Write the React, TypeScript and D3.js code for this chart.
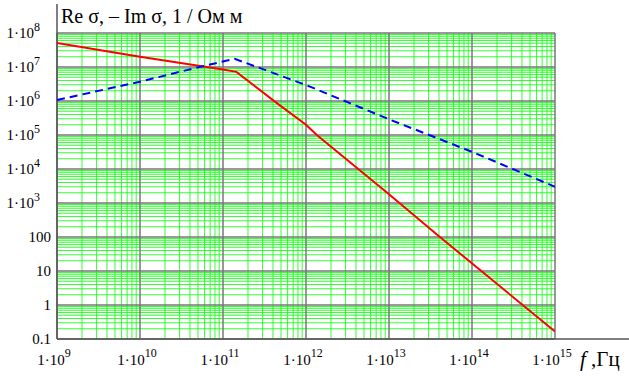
import * as d3 from "d3";
import React from "react";

// Re sigma (red, solid)
const reFreq = [1e9, 1e10, 1e11, 1.45e11, 4.5e11, 1e12, 1.35e12, 1e13, 4.1e13, 1e15];
const reSigma = [5.1e7, 2.0e7, 8.5e6, 7.2e6, 8.5e5, 2.0e5, 1.0e5, 1.8e3, 1.0e2, 0.166];

// -Im sigma (blue, dashed)
const imFreq = [1e9, 1e10, 5.2e10, 1.38e11, 1e12, 1e13, 1e14, 1e15];
const imSigma = [1.07e6, 3.7e6, 1.0e7, 1.74e7, 2.95e6, 2.9e5, 3.2e4, 3.0e3];

const xDecades = [9, 10, 11, 12, 13, 14, 15];
const yDecades = [-1, 0, 1, 2, 3, 4, 5, 6, 7, 8];
const yPlainLabels = ["0.1", "1", "10", "100"];

const width = 629;
const height = 376;
const left = 57, right = 555, top = 33, bottom = 339;
const serif = "Liberation Serif, DejaVu Serif, serif";

function App() {
  const x = d3.scaleLog().domain([1e9, 1e15]).range([left, right]);
  const y = d3.scaleLog().domain([0.1, 1e8]).range([bottom, top]);

  const minorX: number[] = [];
  for (let d = 9; d < 15; d++) for (let k = 2; k <= 9; k++) minorX.push(k * Math.pow(10, d));
  const minorY: number[] = [];
  for (let d = -1; d < 8; d++) for (let k = 2; k <= 9; k++) minorY.push(k * Math.pow(10, d));

  const line = d3.line<[number, number]>().x(d => x(d[0])).y(d => y(d[1]));
  const reData = reFreq.map((f, i) => [f, reSigma[i]] as [number, number]);
  const imData = imFreq.map((f, i) => [f, imSigma[i]] as [number, number]);

  return (
    <svg width={width} height={height} style={{ display: "block", position: "absolute", left: 0, top: 0 }}>
      <rect width={width} height={height} fill="#fff" />
      <defs>
        <clipPath id="plot">
          <rect x={left} y={top - 2} width={right - left} height={bottom - top + 2} />
        </clipPath>
      </defs>
      {minorX.map((v, i) => (
        <line key={"mx" + i} x1={x(v)} x2={x(v)} y1={top} y2={bottom} stroke="#00ff00" strokeOpacity={0.8} strokeWidth={1} />
      ))}
      {minorY.map((v, i) => (
        <line key={"my" + i} x1={left} x2={right} y1={y(v)} y2={y(v)} stroke="#00ff00" strokeOpacity={0.8} strokeWidth={1} />
      ))}
      {xDecades.map(d => (
        <line key={"Mx" + d} x1={x(Math.pow(10, d))} x2={x(Math.pow(10, d))} y1={top} y2={bottom} stroke="#777" strokeWidth={1.5} />
      ))}
      {yDecades.map(d => (
        <line key={"My" + d} x1={left} x2={right} y1={y(Math.pow(10, d))} y2={y(Math.pow(10, d))} stroke="#777" strokeWidth={1.5} />
      ))}
      {/* axes */}
      <line x1={left} x2={left} y1={4} y2={bottom} stroke="#555" strokeWidth={1.5} />
      <line x1={left} x2={width} y1={bottom} y2={bottom} stroke="#555" strokeWidth={1.5} />

      <g clipPath="url(#plot)">
        <path d={line(reData) || ""} fill="none" stroke="#ff0000" strokeWidth={2} />
        <path d={line(imData) || ""} fill="none" stroke="#0000ff" strokeWidth={2} strokeDasharray="8,5" />
      </g>

      {/* y tick labels */}
      {yDecades.map(d => {
        const yy = y(Math.pow(10, d)) + 5;
        if (d <= 2) {
          return (
            <text key={"yl" + d} x={51} y={yy} textAnchor="end" fontFamily={serif} fontSize={15}>
              {yPlainLabels[d + 1]}
            </text>
          );
        }
        return (
          <text key={"yl" + d} x={40} y={yy} textAnchor="end" fontFamily={serif} fontSize={15}>
            1·10<tspan dy={-7} fontSize={12}>{d}</tspan>
          </text>
        );
      })}

      {/* x tick labels */}
      {xDecades.map(d => (
        <text key={"xl" + d} x={x(Math.pow(10, d)) - 3} y={365} textAnchor="middle" fontFamily={serif} fontSize={15}>
          1·10<tspan dy={-8} fontSize={12}>{d}</tspan>
        </text>
      ))}

      {/* axis titles */}
      <text x={61} y={23} fontFamily={serif} fontSize={20}>
        Re σ, – Im σ, 1 / Ом м
      </text>
      <text x={580} y={366} fontFamily={serif} fontSize={21}>
        <tspan fontStyle="italic">f</tspan> ,Гц
      </text>
    </svg>
  );
}

export default App;
